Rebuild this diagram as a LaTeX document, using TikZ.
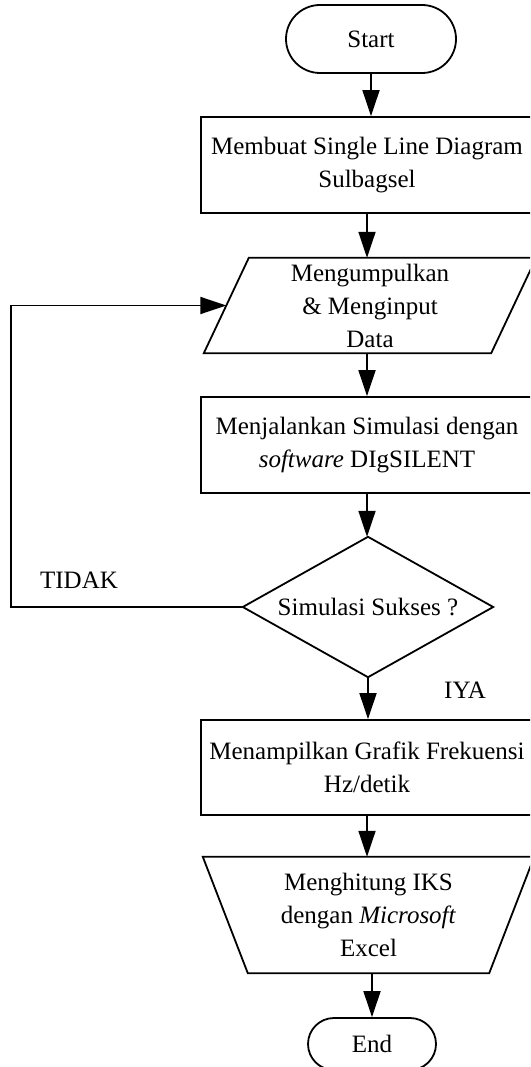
\documentclass[tikz,border=0pt]{standalone}
\usepackage{fontspec}
\setmainfont{Liberation Serif}
\usetikzlibrary{shapes.misc,arrows.meta,calc}
\begin{document}
\begin{tikzpicture}[x=1pt,y=-1pt,
  every node/.style={font=\fontsize{25}{33}\selectfont, inner sep=0pt, align=center},
  ln/.style={line width=1.8pt},
  arr/.style={line width=1.8pt,-{Triangle[length=26pt,width=17pt]}},
  term/.style={rounded rectangle, draw, line width=1.8pt},
  proc/.style={rectangle, draw, line width=1.8pt, minimum width=332pt, minimum height=96pt}
]
\path[use as bounding box] (0,0) rectangle (530,1067);
\begin{scope}
\clip (0,0) rectangle (530,1067);
\node[term, minimum width=170pt, minimum height=68pt] (start) at (371,39) {Start};
\node[proc] (b1) at (367,165) {Membuat Single Line Diagram\\Sulbagsel};
\node[minimum width=332pt, minimum height=95pt] (para) at (370,305.5) {Mengumpulkan\\\& Menginput\\Data};
\draw[ln] (para.south west) -- ($(para.south east)+(-45,0)$) -- (para.north east) -- ($(para.north west)+(45,0)$) -- cycle;
\coordinate (paraL) at ($(para.south west)!0.5!($(para.north west)+(45,0)$)$);
\node[proc] (b2) at (367,445) {Menjalankan Simulasi dengan\\\textit{software} DIgSILENT};
\node[minimum width=250pt, minimum height=140pt] (dec) at (368,607) {Simulasi Sukses ?};
\draw[ln] (dec.north) -- (dec.east) -- (dec.south) -- (dec.west) -- cycle;
\node (tidak) at (79,580) {TIDAK};
\node (iya) at (465,690) {IYA};
\node[proc, minimum height=95pt] (b3) at (367,767.5) {Menampilkan Grafik Frekuensi\\Hz/detik};
\node[minimum width=331pt, minimum height=116pt] (trap) at (368.5,915) {Menghitung IKS\\dengan \textit{Microsoft}\\Excel};
\draw[ln] (trap.north west) -- (trap.north east) -- ($(trap.south east)+(-45,0)$) -- ($(trap.south west)+(45,0)$) -- cycle;
\node[term, minimum width=128pt, minimum height=52pt] (end) at (372,1044) {End};
\coordinate (lp) at (11,607);
\draw[arr] (start.south) -- (start.south |- b1.north);
\draw[arr] (b1.south) -- (b1.south |- para.north);
\draw[arr] (para.south -| b2.north) -- (b2.north);
\draw[arr] (b2.south) -- (b2.south |- dec.north);
\draw[arr] (dec.south) -- (dec.south |- b3.north);
\draw[arr] (b3.south) -- (b3.south |- trap.north);
\draw[arr] (trap.south -| end.north) -- (end.north);
\draw[arr] (dec.west) -- (lp) |- (paraL);
\end{scope}
\end{tikzpicture}
\end{document}
